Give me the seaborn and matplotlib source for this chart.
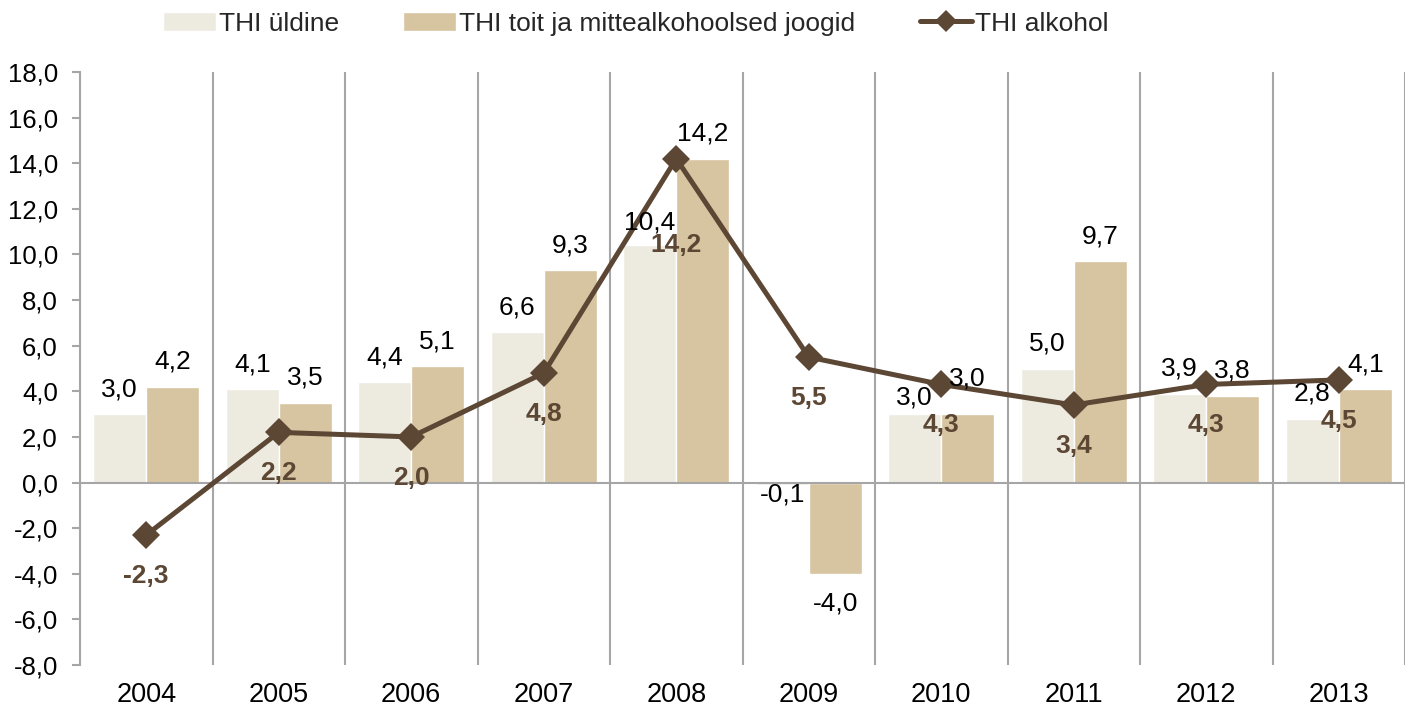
import numpy as np
import pandas as pd
import matplotlib
matplotlib.use("Agg")
import matplotlib.pyplot as plt
import seaborn as sns
from matplotlib.ticker import FixedLocator, FuncFormatter

# ---------------- data ----------------
years = ["2004", "2005", "2006", "2007", "2008", "2009", "2010", "2011", "2012", "2013"]
thi_yldine = [3.0, 4.1, 4.4, 6.6, 10.4, -0.1, 3.0, 5.0, 3.9, 2.8]
thi_toit = [4.2, 3.5, 5.1, 9.3, 14.2, -4.0, 3.0, 9.7, 3.8, 4.1]
thi_alkohol = [-2.3, 2.2, 2.0, 4.8, 14.2, 5.5, 4.3, 3.4, 4.3, 4.5]
series_names = ["THI üldine", "THI toit ja mittealkohoolsed joogid", "THI alkohol"]
y_tick_values = [-8, -6, -4, -2, 0, 2, 4, 6, 8, 10, 12, 14, 16, 18]

# ---------------- style ----------------
c_light = "#EDEAE0"
c_tan = "#D7C4A0"
c_line = "#5C4634"
c_grid = "#A6A6A6"
PX = 72 / 100  # points per pixel at dpi 100

sns.set_theme(style="white")
plt.rcParams["font.family"] = ["Liberation Sans", "DejaVu Sans"]

fmt = lambda v: f"{v:.1f}".replace(".", ",")

df_bars = pd.DataFrame({
    "year": years * 2,
    "value": thi_yldine + thi_toit,
    "series": [series_names[0]] * len(years) + [series_names[1]] * len(years),
})
df_line = pd.DataFrame({"year": years, "value": thi_alkohol})

W, H = 1416, 711
fig = plt.figure(figsize=(W / 100, H / 100), dpi=100)
ax = fig.add_axes([80 / W, 1 - 665 / H, (1405 - 80) / W, (665 - 72) / H])

sns.barplot(data=df_bars, x="year", y="value", hue="series",
            palette=[c_light, c_tan], width=0.8, saturation=1,
            errorbar=None, ax=ax, zorder=2)
sns.pointplot(data=df_line, x="year", y="value", color=c_line, markers="D",
              markersize=14.5, linewidth=3.6, markeredgewidth=0,
              errorbar=None, ax=ax, label=series_names[2], zorder=4)
alk_line = ax.lines[-1]

ax.set_xlim(-0.5, len(years) - 0.5)
ax.set_ylim(min(y_tick_values), max(y_tick_values))
ax.set_xlabel("")
ax.set_ylabel("")

# axes styling
for s in ["top", "right", "bottom"]:
    ax.spines[s].set_visible(False)
ax.spines["left"].set_color(c_grid)
ax.spines["left"].set_linewidth(1.5)
ax.axhline(0, color=c_grid, lw=1.5, zorder=3)

ax.yaxis.set_major_locator(FixedLocator(y_tick_values))
ax.yaxis.set_major_formatter(FuncFormatter(lambda v, p: fmt(v)))
ax.tick_params(axis="y", which="major", left=True, length=6, width=1.5,
               color=c_grid, pad=10, labelsize=18.5, labelcolor="black")
ax.tick_params(axis="x", which="major", length=0, pad=12, labelsize=19.5,
               labelcolor="black")
ax.xaxis.set_minor_locator(FixedLocator(np.arange(-0.5, len(years), 1.0)))
ax.tick_params(axis="x", which="minor", length=0)
ax.grid(False)
ax.grid(which="minor", axis="x", color=c_grid, lw=1.5, zorder=0)
ax.set_axisbelow(True)

# bar labels
bar_shift = {(0, 5): -10, (0, 6): 17, (1, 6): 36, (1, 5): -30, (0, 4): 23}
for si, (cont, vals) in enumerate(zip(ax.containers[:2], [thi_yldine, thi_toit])):
    for i, (patch, v) in enumerate(zip(cont.patches, vals)):
        xc = patch.get_x() + patch.get_width() / 2
        dy = bar_shift.get((si, i), 25 if v >= 0 else -30)
        ax.annotate(fmt(v), (xc, v), xytext=(0, dy * PX), textcoords="offset points",
                    ha="center", va="center", fontsize=19, color="black", zorder=6)

# line labels
line_shift = {4: 86}
for i, (xv, v) in enumerate(zip(alk_line.get_xdata(), thi_alkohol)):
    dy = line_shift.get(i, 41)
    ax.annotate(fmt(v), (xv, v), xytext=(0, -dy * PX), textcoords="offset points",
                ha="center", va="center", fontsize=19, fontweight="bold",
                color=c_line, zorder=6)

# legend
handles, labels = ax.get_legend_handles_labels()
if ax.get_legend() is not None:
    ax.get_legend().remove()
fig.legend(handles, labels, loc="upper center", bbox_to_anchor=(0.449, 1.017),
           ncol=3, frameon=False, fontsize=19, handlelength=2.0,
           handleheight=0.7, handletextpad=0.1, columnspacing=2.45,
           markerscale=0.75)

fig.savefig("out.png", dpi=100, facecolor="white")
